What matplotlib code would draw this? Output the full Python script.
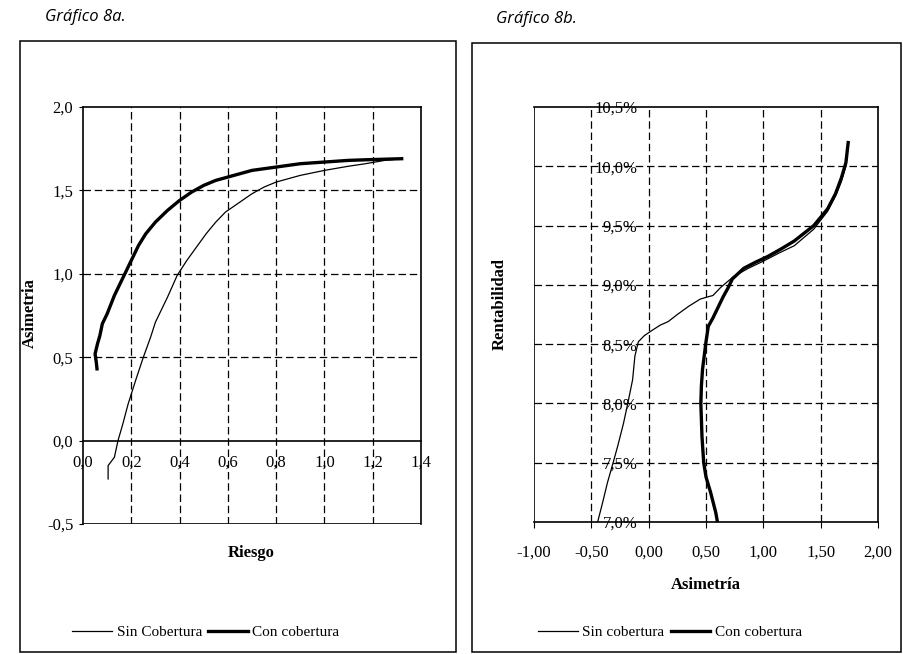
import matplotlib
matplotlib.use("Agg")
import matplotlib.pyplot as plt
from matplotlib.patches import Rectangle
from matplotlib.ticker import FuncFormatter

# --- Gráfico 8a: Riesgo vs Asimetria ---
a_sin_x = [0.104, 0.104, 0.13, 0.145, 0.165, 0.187, 0.22, 0.25, 0.28, 0.30, 0.35, 0.39, 0.43,
           0.47, 0.51, 0.55, 0.59, 0.65, 0.70, 0.75, 0.80, 0.90, 1.00, 1.10, 1.17, 1.25, 1.32]
a_sin_y = [-0.23, -0.15, -0.10, 0.00, 0.10, 0.22, 0.37, 0.50, 0.62, 0.71, 0.86, 0.99, 1.08,
           1.16, 1.24, 1.31, 1.37, 1.43, 1.48, 1.52, 1.55, 1.59, 1.62, 1.645, 1.66, 1.68, 1.69]
a_con_x = [0.058, 0.055, 0.05, 0.06, 0.07, 0.08, 0.10, 0.13, 0.15, 0.17, 0.20, 0.23, 0.26, 0.30,
           0.35, 0.40, 0.45, 0.50, 0.55, 0.60, 0.70, 0.80, 0.90, 1.00, 1.10, 1.20, 1.32]
a_con_y = [0.43, 0.47, 0.52, 0.58, 0.63, 0.70, 0.76, 0.87, 0.93, 0.99, 1.08, 1.17, 1.24, 1.31,
           1.38, 1.44, 1.49, 1.53, 1.56, 1.58, 1.62, 1.64, 1.66, 1.67, 1.68, 1.685, 1.69]
a_xticks = [0.0, 0.2, 0.4, 0.6, 0.8, 1.0, 1.2, 1.4]
a_yticks = [-0.5, 0.0, 0.5, 1.0, 1.5, 2.0]

# --- Gráfico 8b: Asimetría vs Rentabilidad (%) ---
b_sin_x = [-0.445, -0.40, -0.36, -0.31, -0.27, -0.22, -0.18, -0.14, -0.13, -0.12, -0.09, -0.04,
           0.02, 0.10, 0.17, 0.25, 0.35, 0.45, 0.52, 0.56, 0.63, 0.74, 0.87, 1.00, 1.14, 1.27,
           1.44, 1.56, 1.63, 1.68, 1.72, 1.74]
b_sin_y = [7.00, 7.17, 7.33, 7.50, 7.64, 7.83, 8.01, 8.20, 8.30, 8.40, 8.52, 8.57,
           8.61, 8.66, 8.69, 8.75, 8.82, 8.88, 8.90, 8.91, 8.98, 9.07, 9.14, 9.20, 9.27, 9.33,
           9.47, 9.62, 9.75, 9.87, 10.00, 10.18]
b_con_x = [0.60, 0.585, 0.54, 0.50, 0.48, 0.465, 0.455, 0.46, 0.47, 0.50, 0.52, 0.56, 0.60, 0.65,
           0.69, 0.73, 0.83, 0.93, 1.04, 1.15, 1.27, 1.44, 1.56, 1.63, 1.68, 1.72, 1.74]
b_con_y = [7.00, 7.08, 7.25, 7.38, 7.50, 7.72, 8.00, 8.15, 8.29, 8.52, 8.65, 8.72, 8.80, 8.90,
           8.97, 9.05, 9.14, 9.19, 9.24, 9.30, 9.37, 9.50, 9.64, 9.77, 9.90, 10.03, 10.20]
b_xticks = [-1.0, -0.5, 0.0, 0.5, 1.0, 1.5, 2.0]
b_yticks = [7.0, 7.5, 8.0, 8.5, 9.0, 9.5, 10.0, 10.5]

SERIF = "Liberation Serif"
W, H = 904, 654
TICK_FS = 12
grid_kw = dict(color="black", linestyle=(0, (6, 3)), linewidth=0.9)


def fbox(x0, y0, x1, y1):
    # pixel box (top-left origin) -> figure fraction
    return [x0 / W, 1 - y1 / H, (x1 - x0) / W, (y1 - y0) / H]


def comma(fmt):
    return FuncFormatter(lambda v, p: fmt.format(v).replace(".", ","))


fig = plt.figure(figsize=(W / 100, H / 100), dpi=100)
fig.patch.set_facecolor("white")

# outer frames
for (x0, y0, x1, y1) in [(20, 41, 456, 652), (472, 43, 901, 652)]:
    fig.add_artist(Rectangle((x0 / W, 1 - y1 / H), (x1 - x0) / W, (y1 - y0) / H,
                             transform=fig.transFigure, fill=False,
                             edgecolor="black", linewidth=1.1))

fig.text(45 / W, 1 - 17 / H, "Gráfico 8a.", fontsize=12, style="italic",
         family="Open Sans", va="center", ha="left")
fig.text(496 / W, 1 - 19 / H, "Gráfico 8b.", fontsize=12, style="italic",
         family="Open Sans", va="center", ha="left")

# ---------- left chart ----------
ax1 = fig.add_axes(fbox(83, 107, 421, 524))
ax1.set_xlim(0, 1.4)
ax1.set_ylim(-0.5, 2.0)
for x in a_xticks[1:-1]:
    ax1.axvline(x, **grid_kw)
for y in [0.5, 1.0, 1.5]:
    ax1.axhline(y, **grid_kw)
ax1.axhline(-0.5, color="black", linewidth=1.2)
ax1.spines["bottom"].set_position(("data", 0))
for s in ax1.spines.values():
    s.set_linewidth(1.2)
ax1.plot(a_sin_x, a_sin_y, color="black", linewidth=0.9, label="Sin Cobertura")
ax1.plot(a_con_x, a_con_y, color="black", linewidth=2.4, label="Con cobertura")
ax1.set_xticks(a_xticks)
ax1.set_yticks(a_yticks)
ax1.xaxis.set_major_formatter(comma("{:.1f}"))
ax1.yaxis.set_major_formatter(comma("{:.1f}"))
ax1.tick_params(axis="x", length=0, pad=10, labelsize=TICK_FS)
ax1.tick_params(axis="y", direction="out", length=3, pad=4, labelsize=TICK_FS)
for lab in ax1.get_xticklabels() + ax1.get_yticklabels():
    lab.set_family(SERIF)
fig.text(30 / W, 1 - 313 / H, "Asimetria", rotation=90, fontsize=12, weight="bold",
         family=SERIF, ha="center", va="center")
fig.text(251 / W, 1 - 553 / H, "Riesgo", fontsize=12, weight="bold",
         family=SERIF, ha="center", va="center")
ax1.legend(loc="center", bbox_to_anchor=(206 / W, 1 - 632 / H), bbox_transform=fig.transFigure,
           ncol=2, frameon=False, handlelength=2.6, handletextpad=0.3, columnspacing=0.4,
           prop={"family": SERIF, "size": 11})

# ---------- right chart ----------
ax2 = fig.add_axes(fbox(534, 107, 878, 522))
ax2.set_xlim(-1.0, 2.0)
ax2.set_ylim(7.0, 10.5)
for x in [-0.5, 0.0, 0.5, 1.0, 1.5]:
    ax2.axvline(x, **grid_kw)
for y in [7.5, 8.0, 8.5, 9.0, 9.5, 10.0]:
    ax2.axhline(y, **grid_kw)
ax2.axvline(-1.0, color="black", linewidth=1.2)
ax2.spines["left"].set_position(("data", 0))
ax2.spines["left"].set_visible(False)
for s in ax2.spines.values():
    s.set_linewidth(1.2)
ax2.plot(b_sin_x, b_sin_y, color="black", linewidth=0.9, label="Sin cobertura")
ax2.plot(b_con_x, b_con_y, color="black", linewidth=2.4, label="Con cobertura")
ax2.set_xticks(b_xticks)
ax2.set_yticks(b_yticks)
ax2.xaxis.set_major_formatter(comma("{:.2f}"))
ax2.yaxis.set_major_formatter(comma("{:.1f}%"))
ax2.tick_params(axis="x", direction="out", length=4, pad=12, labelsize=TICK_FS)
ax2.tick_params(axis="y", length=0, pad=8, labelsize=TICK_FS)
for lab in ax2.get_xticklabels() + ax2.get_yticklabels():
    lab.set_family(SERIF)
fig.text(500 / W, 1 - 304 / H, "Rentabilidad", rotation=90, fontsize=12, weight="bold",
         family=SERIF, ha="center", va="center")
fig.text(706 / W, 1 - 585 / H, "Asimetría", fontsize=12, weight="bold",
         family=SERIF, ha="center", va="center")
ax2.legend(loc="center", bbox_to_anchor=(670 / W, 1 - 632 / H), bbox_transform=fig.transFigure,
           ncol=2, frameon=False, handlelength=2.6, handletextpad=0.3, columnspacing=0.4,
           prop={"family": SERIF, "size": 11})

fig.savefig("out.png", dpi=100, facecolor="white")
